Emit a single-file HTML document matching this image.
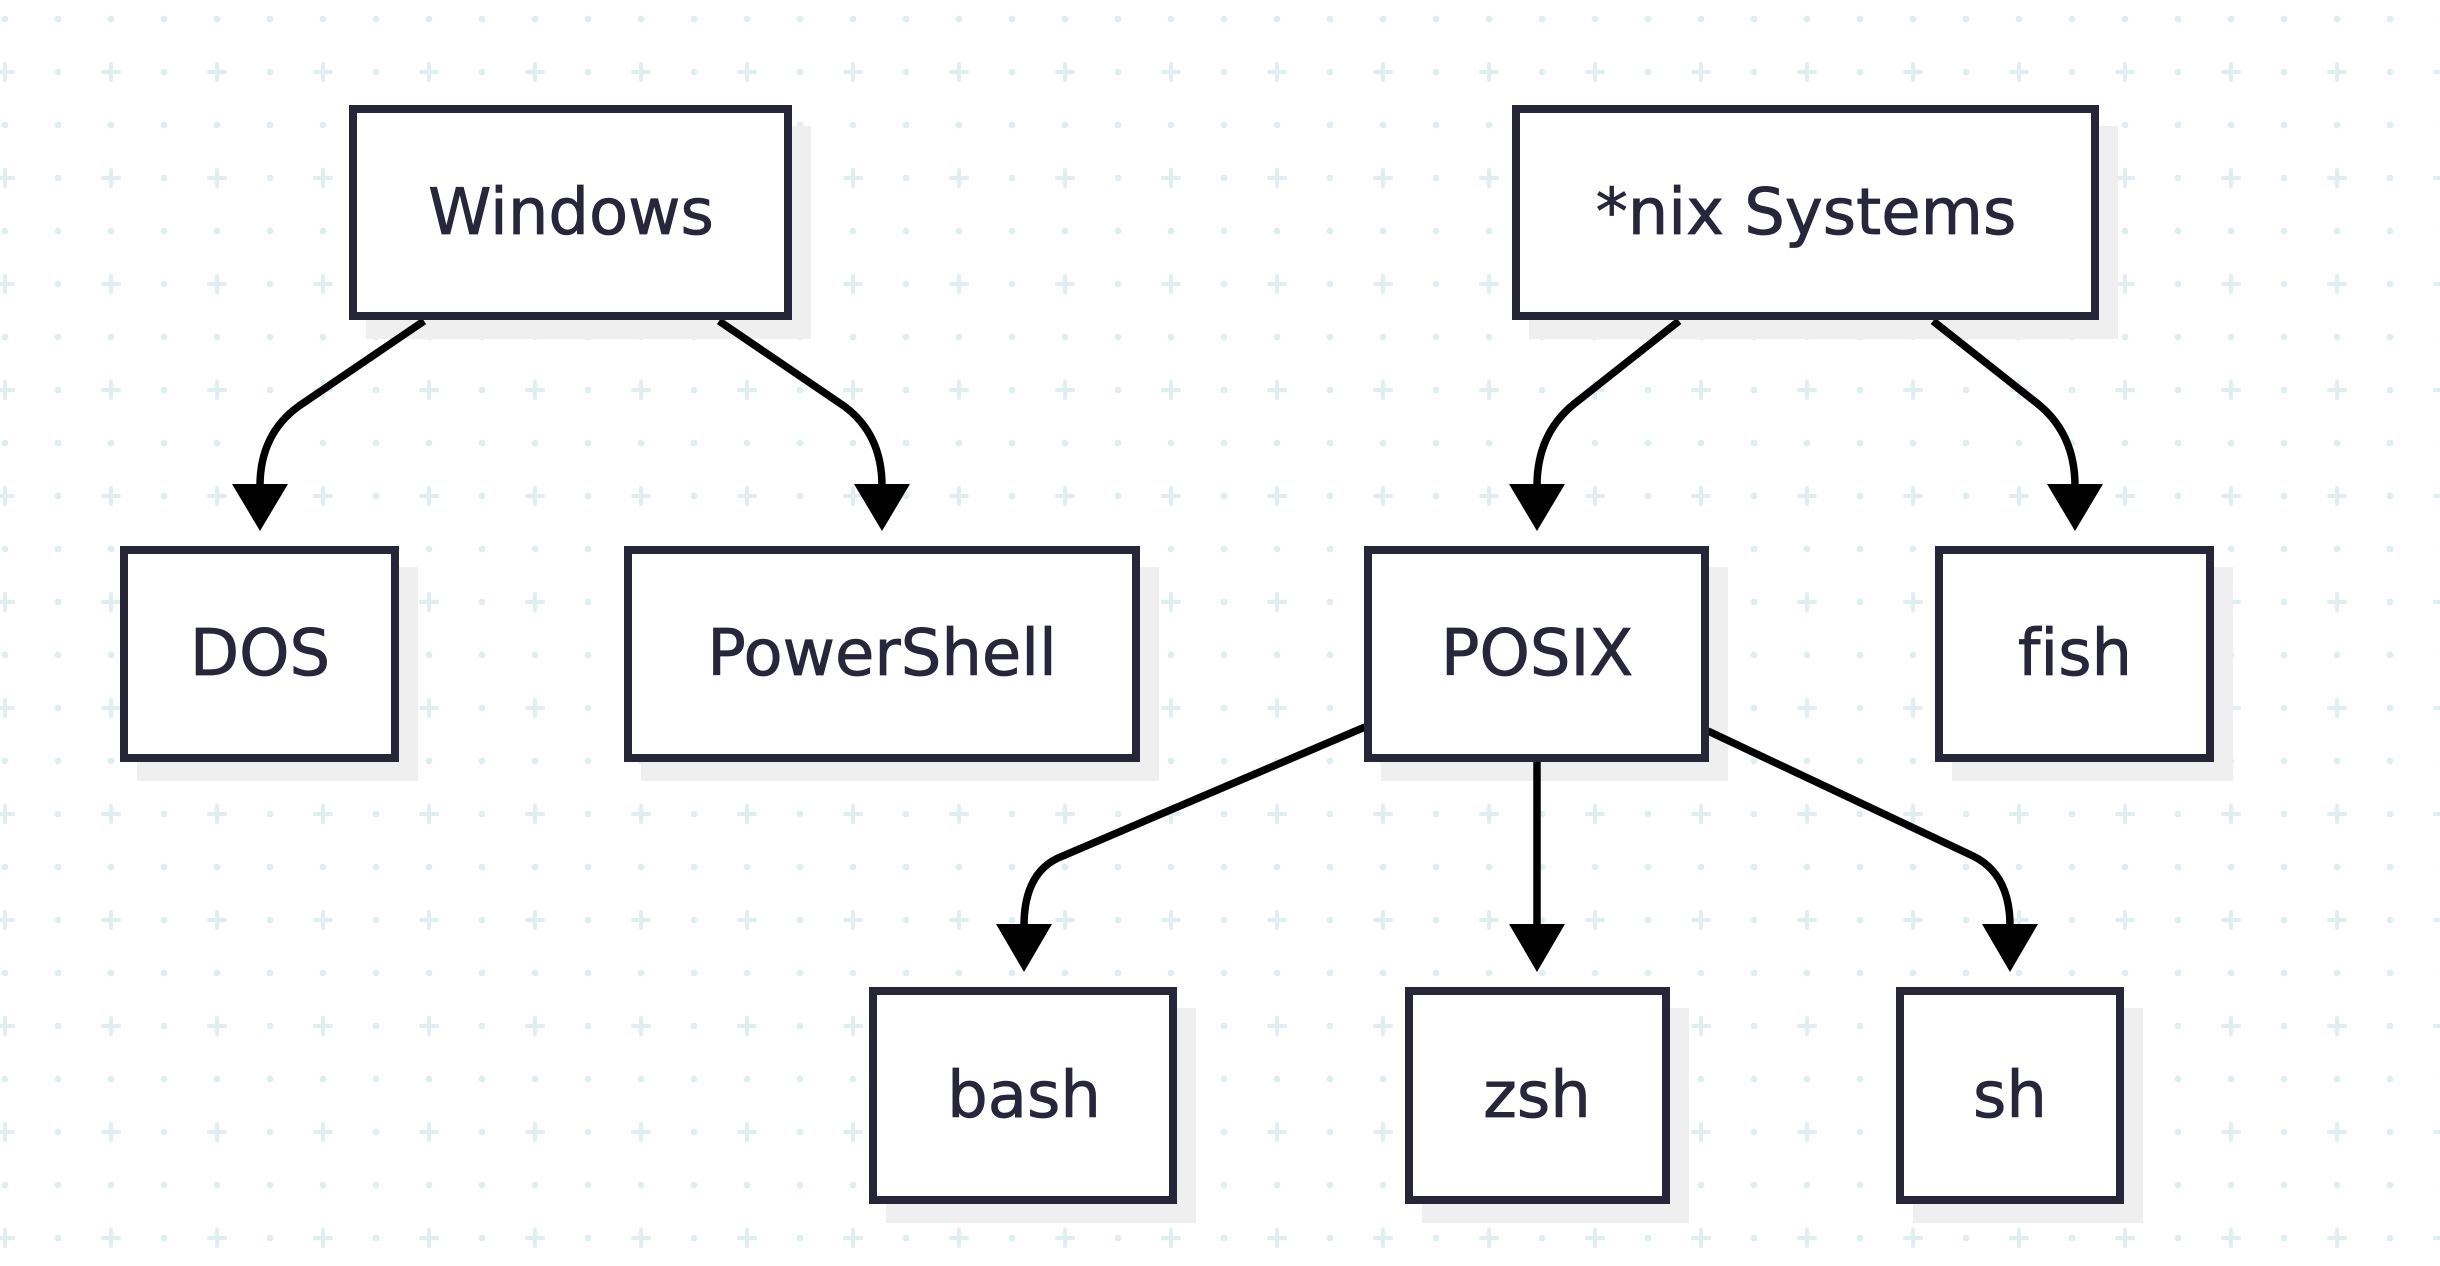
<!DOCTYPE html>
<html><head><meta charset="utf-8"><style>
html,body{margin:0;padding:0;background:#fff;}
svg{display:block;}
text{font-family:"DejaVu Sans","Liberation Sans",sans-serif;font-size:64px;fill:#27263a;stroke:#27263a;stroke-width:0.8;text-anchor:middle;dominant-baseline:central;font-variant-ligatures:none;font-feature-settings:"liga" 0;}
</style></head><body>
<svg width="2440" height="1266" viewBox="0 0 2440 1266" xmlns="http://www.w3.org/2000/svg">
<defs>
<pattern id="g" patternUnits="userSpaceOnUse" x="-21.5" y="-7.5" width="106" height="106">
<g fill="#e0eef2">
<circle cx="26.5" cy="26.5" r="3.4"/><circle cx="79.5" cy="26.5" r="3.4"/><circle cx="79.5" cy="79.5" r="3.4"/>
</g>
<g stroke="#e0eef2" stroke-width="4" stroke-linecap="round">
<line x1="18.5" y1="79.5" x2="34.5" y2="79.5"/><line x1="26.5" y1="71.5" x2="26.5" y2="87.5"/>
</g>
</pattern>
</defs>
<rect width="2440" height="1266" fill="url(#g)"/>
<g fill="#efefef">
<rect x="366" y="126" width="445" height="213"/>
<rect x="137" y="567" width="281" height="214"/>
<rect x="641" y="567" width="518" height="214"/>
<rect x="1529" y="126" width="589" height="213"/>
<rect x="1381" y="567" width="347" height="214"/>
<rect x="1952" y="567" width="281" height="214"/>
<rect x="886" y="1008" width="310" height="215"/>
<rect x="1422" y="1008" width="267" height="215"/>
<rect x="1913" y="1008" width="230" height="215"/>
</g>
<g fill="none" stroke="#000" stroke-width="7.5">
<path d="M424 321 L299 406 Q260 434 260 486"/>
<path d="M719 321 L844 406 Q882 434 882 486"/>
<path d="M1679 321 L1574 404 Q1537 434 1537 486"/>
<path d="M1933 321 L2038 404 Q2075 434 2075 486"/>
<path d="M1365 727 L1058 858 Q1024 874 1024 926"/>
<path d="M1537 761 L1537 926"/>
<path d="M1708 731 L1973 856 Q2010 874 2010 926"/>
</g>
<g fill="#000">
<polygon points="232,484 288,484 260,531"/>
<polygon points="854,484 910,484 882,531"/>
<polygon points="1509,484 1565,484 1537,531"/>
<polygon points="2047,484 2103,484 2075,531"/>
<polygon points="996,924 1052,924 1024,972"/>
<polygon points="1509,924 1565,924 1537,972"/>
<polygon points="1982,924 2038,924 2010,972"/>
</g>
<g fill="#fff" stroke="#262638" stroke-width="8">
<rect x="353" y="109" width="435" height="207"/>
<rect x="124" y="550" width="271" height="208"/>
<rect x="628" y="550" width="508" height="208"/>
<rect x="1516" y="109" width="579" height="207"/>
<rect x="1368" y="550" width="337" height="208"/>
<rect x="1939" y="550" width="271" height="208"/>
<rect x="873" y="991" width="300" height="209"/>
<rect x="1409" y="991" width="257" height="209"/>
<rect x="1900" y="991" width="220" height="209"/>
</g>
<text x="571" y="213">Windows</text>
<text x="260" y="654">DOS</text>
<text x="882" y="654">PowerShell</text>
<text x="1806" y="213">*nix Systems</text>
<text x="1537" y="654">POSIX</text>
<text x="2075" y="654">fish</text>
<text x="1024" y="1096">bash</text>
<text x="1537" y="1096">zsh</text>
<text x="2010" y="1096">sh</text>
</svg>
</body></html>
